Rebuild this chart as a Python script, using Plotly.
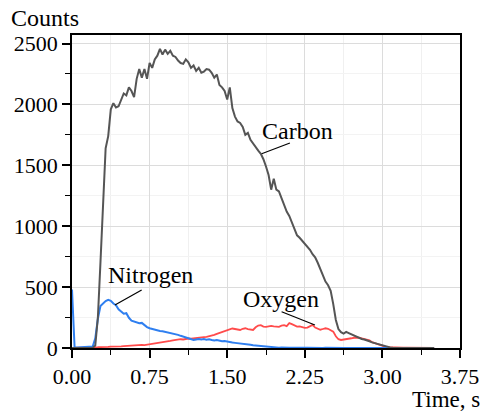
import plotly.graph_objects as go

# Sampling grid (s), 0.025 s step, 0 .. 3.5 s
TIME = [round(i * 0.025, 3) for i in range(141)]

CARBON = [
    0, 0, 0, 0, 0, 0, 0, 0, 2, 20,
    250, 700, 1150, 1640, 1740, 1960, 2010, 1975, 1985, 2040,
    2090, 2075, 2140, 2110, 2060, 2210, 2290, 2220, 2290, 2210,
    2340, 2300, 2370, 2400, 2456, 2410, 2450, 2415, 2440, 2400,
    2390, 2360, 2340, 2333, 2370, 2345, 2300, 2320, 2275, 2300,
    2260, 2270, 2290, 2285, 2260, 2220, 2245, 2160, 2140, 2110,
    2040, 2140, 1970, 1900, 1860, 1848, 1815, 1750, 1766, 1710,
    1680, 1640, 1620, 1595, 1550, 1490, 1420, 1300, 1390, 1300,
    1285, 1230, 1170, 1120, 1085, 1030, 970, 925, 905, 880,
    850, 830, 806, 770, 745, 700, 650, 590, 545, 515,
    470, 360, 230, 155, 130, 118, 132, 122, 112, 105,
    93, 83, 74, 70, 65, 55, 46, 40, 32, 25,
    18, 13, 9, 5, 2, 0, 0, 0, 0, 0,
    0, 0, 0, 0, 0, 0, 0, 0, 0, 0,
    0,
]

NITROGEN = [
    480, 5, 4, 5, 4, 5, 4, 6, 12, 80,
    240, 345, 368, 385, 395, 388, 365, 352, 318, 300,
    282, 286, 248, 225, 218, 214, 203, 206, 188, 172,
    162, 155, 150, 145, 140, 138, 134, 130, 124, 120,
    115, 108, 100, 92, 86, 80, 72, 66, 70, 74,
    70, 73, 68, 71, 66, 62, 66, 60, 55, 58,
    52, 48, 45, 42, 40, 38, 37, 33, 30, 27,
    22, 20, 18, 15, 12, 10, 7, 6, 5, 4,
    3, 4, 2, 3, 2, 3, 2, 2, 3, 2,
    2, 3, 2, 2, 1, 2, 2, 1, 2, 1,
    1, 2, 1, 1, 2, 1, 1, 1, 1, 1,
    1, 1, 0, 1, 1, 0, 1, 0, 1, 0,
    0, 0, 0, 0, 0, 0, 0, 0, 0, 0,
    0, 0, 0, 0, 0, 0, 0, 0, 0, 0,
    0,
]

OXYGEN = [
    0, 0, 0, 0, 0, 0, 0, 1, 3, 5,
    6, 8, 7, 10, 9, 12, 11, 14, 15, 14,
    15, 17, 16, 19, 21, 20, 23, 25, 24, 27,
    30, 32, 35, 37, 40, 44, 48, 54, 58, 62,
    66, 68, 72, 70, 75, 78, 76, 80, 82, 84,
    86, 90, 92, 96, 102, 108, 116, 124, 130, 136,
    146, 152, 160, 156, 150, 148, 158, 162, 155, 150,
    148, 170, 184, 188, 176, 174, 180, 182, 178, 176,
    174, 184, 188, 180, 204, 196, 188, 176, 178, 172,
    166, 168, 176, 190, 168, 162, 150, 156, 162, 158,
    146, 134, 96, 72, 66, 68, 72, 76, 80, 84,
    86, 84, 80, 74, 68, 62, 48, 40, 32, 25,
    18, 12, 8, 6, 5, 4, 3, 3, 2, 2,
    2, 1, 1, 1, 1, 0, 0, 0, 0, 0,
    0,
]

X_TICKS = [0.0, 0.75, 1.5, 2.25, 3.0, 3.75]
X_TICK_TEXT = ["0.00", "0.75", "1.50", "2.25", "3.00", "3.75"]
Y_TICKS = [0, 500, 1000, 1500, 2000, 2500]

# Labels: (text, text position, line start, line end) in data units
LABELS = [
    ("Carbon", (2.184, 1784), (1.833, 1595), (2.106, 1683)),
    ("Nitrogen", (0.763, 600), (0.415, 353), (0.673, 477)),
    ("Oxygen", (2.019, 403), (2.026, 298), (2.348, 189)),
]

FONT = "Liberation Serif, Times New Roman, serif"

fig = go.Figure()
fig.add_trace(go.Scatter(x=TIME, y=OXYGEN, mode="lines",
                         line=dict(color="#ff4b4b", width=1.8), name="Oxygen"))
fig.add_trace(go.Scatter(x=TIME, y=NITROGEN, mode="lines",
                         line=dict(color="#2f7ff0", width=2), name="Nitrogen"))
fig.add_trace(go.Scatter(x=TIME, y=CARBON, mode="lines",
                         line=dict(color="#555555", width=2), name="Carbon"))

for text, (tx, ty), (x0, y0), (x1, y1) in LABELS:
    fig.add_shape(type="line", xref="x", yref="y", x0=x0, y0=y0, x1=x1, y1=y1,
                  line=dict(color="black", width=1.2))
    fig.add_annotation(x=tx, y=ty, xref="x", yref="y", text=text, showarrow=False,
                       font=dict(family=FONT, size=24, color="black"))

fig.add_annotation(xref="paper", yref="paper", x=-0.163, y=1.055, xanchor="left",
                   yanchor="middle", text="Counts", showarrow=False,
                   font=dict(family=FONT, size=24, color="black"))
fig.add_annotation(xref="paper", yref="paper", x=1.057, y=-0.165, xanchor="right",
                   yanchor="middle", text="Time, s", showarrow=False,
                   font=dict(family=FONT, size=23, color="black"))

axis_common = dict(
    showline=True, linecolor="black", linewidth=1.8, mirror=True,
    ticks="outside", ticklen=8, tickwidth=1.6, tickcolor="black",
    showgrid=True, gridcolor="#dcdcdc", gridwidth=1.2,
    zeroline=False, automargin=False,
    tickfont=dict(family=FONT, size=22, color="black"),
)

fig.update_xaxes(range=[0, 3.75], tickvals=X_TICKS, ticktext=X_TICK_TEXT,
                 minor=dict(dtick=0.375, ticks="outside", ticklen=5, tickwidth=1.4,
                            tickcolor="black", showgrid=True, gridcolor="#f0f0f0",
                            gridwidth=1),
                 **axis_common)
fig.update_yaxes(range=[0, 2570], tickvals=Y_TICKS,
                 minor=dict(dtick=250, ticks="outside", ticklen=5, tickwidth=1.4,
                            tickcolor="black", showgrid=True, gridcolor="#f3f3f3",
                            gridwidth=1),
                 **axis_common)

fig.update_layout(
    width=484, height=413,
    margin=dict(l=72, r=24, t=35, b=65),
    plot_bgcolor="white", paper_bgcolor="white",
    showlegend=False,
)

# Remove the page's default body margin so the figure fills the window exactly
fig.write_html(
    "out.html",
    config={"displayModeBar": False},
    post_script="document.body.style.margin='0';document.body.style.overflow='hidden';",
)
